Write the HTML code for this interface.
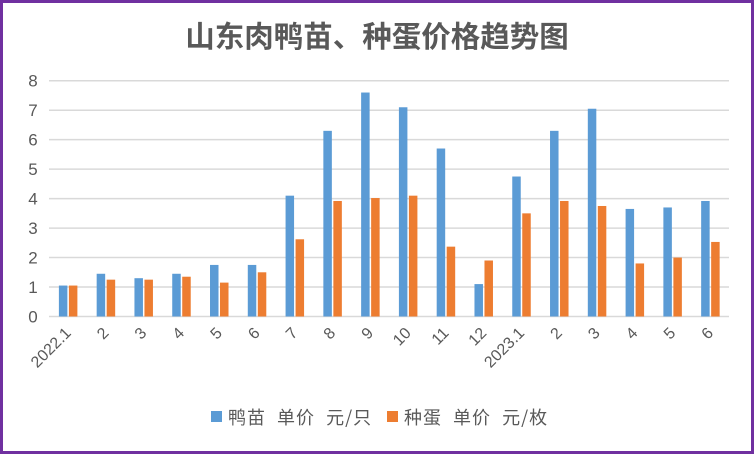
<!DOCTYPE html>
<html><head><meta charset="utf-8"><style>
html,body{margin:0;padding:0;background:#fff}
svg{display:block}
text{font-family:"Liberation Sans","Noto Sans CJK SC",sans-serif;fill:#595959}
</style></head><body>
<svg width="754" height="454" viewBox="0 0 754 454" xmlns="http://www.w3.org/2000/svg">
<rect x="1.5" y="1.5" width="751" height="451" fill="#fff" stroke="#7030a0" stroke-width="3"/>
<text x="377" y="47" text-anchor="middle" font-size="29.5" font-weight="bold" style="font-family:'Noto Sans CJK SC',sans-serif">山东肉鸭苗、种蛋价格趋势图</text>
<g id="g"></g>
<g>
<rect x="211" y="411" width="11" height="11" fill="#5b9bd5"/>
<text x="228" y="424" style="font-family:'Noto Sans CJK SC',sans-serif" font-size="18" letter-spacing="1" word-spacing="6">鸭苗 单价 元/只</text>
<rect x="387" y="411" width="11" height="11" fill="#ed7d31"/>
<text x="404" y="424" style="font-family:'Noto Sans CJK SC',sans-serif" font-size="18" letter-spacing="1" word-spacing="6">种蛋 单价 元/枚</text>
</g>
</svg>
<script>
var g=document.getElementById('g'),s='',y0=316.5,u=29.47,x0=49,cw=37.78;
for(var i=0;i<=8;i++){var y=y0-i*u;s+='<line x1="49" x2="729" y1="'+y+'" y2="'+y+'" stroke="#d9d9d9" stroke-width="1.5"/><text x="33" y="'+(y+6)+'" text-anchor="middle" font-size="17">'+i+'</text>';}
var b=[1.05,1.45,1.3,1.45,1.75,1.75,4.1,6.3,7.6,7.1,5.7,1.1,4.75,6.3,7.05,3.65,3.7,3.92];
var o=[1.05,1.25,1.25,1.35,1.15,1.5,2.62,3.92,4.02,4.1,2.37,1.9,3.5,3.92,3.75,1.8,2.0,2.53];
var L=['2022.1','2','3','4','5','6','7','8','9','10','11','12','2023.1','2','3','4','5','6'];
for(var i=0;i<18;i++){var c=x0+cw*(i+.5);
s+='<rect x="'+(c-9)+'" y="'+(y0-b[i]*u)+'" width="8.5" height="'+(b[i]*u)+'" fill="#5b9bd5"/>';
s+='<rect x="'+(c+1)+'" y="'+(y0-o[i]*u)+'" width="8.5" height="'+(o[i]*u)+'" fill="#ed7d31"/>';
s+='<text transform="translate('+(c+4)+',334) rotate(-45)" text-anchor="end" font-size="16">'+L[i]+'</text>';}
g.innerHTML=s;
</script>
</body></html>
